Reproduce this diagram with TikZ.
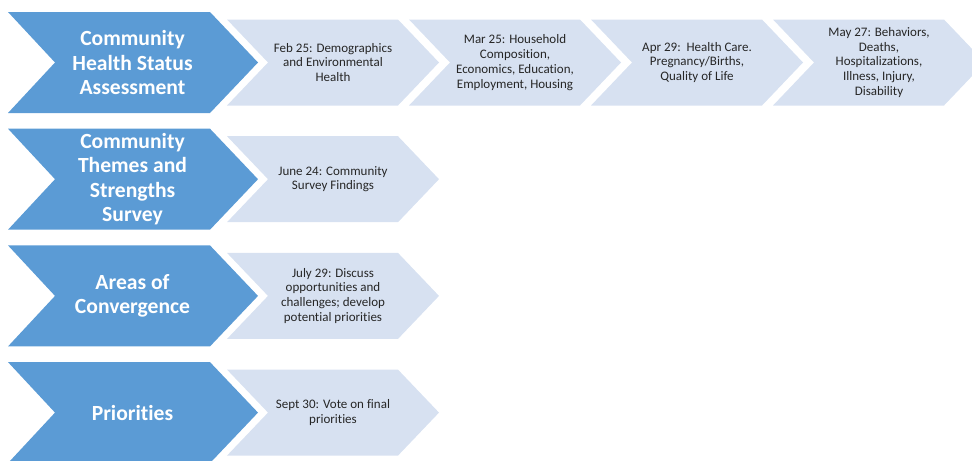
\documentclass[tikz,border=0pt]{standalone}
\usepackage{fontspec}
\setmainfont{Carlito}[Ligatures=NoCommon]

\definecolor{stepblue}{HTML}{5B9BD5}
\definecolor{topicblue}{HTML}{D7E1F1}

\begin{document}
\begin{tikzpicture}[x=0.02cm,y=-0.02cm]

      \useasboundingbox (0,0) rectangle (972,460);

      % big chevrons, one per row
      \foreach \r in {0,...,3}
        \fill[stepblue] (8,12+116.7*\r) -- ++(202,0) -- ++(48,50.5) -- ++(-48,50.5)
          -- ++(-202,0) -- ++(47,-50.5) -- cycle;

      % small chevrons: four in the first row, one in the others
      \foreach \x in {227,409,591,773}
        \fill[topicblue] (\x,19.5) -- ++(171,0) -- ++(41,43) -- ++(-41,43)
          -- ++(-171,0) -- ++(41,-43) -- cycle;
      \foreach \r in {1,2,3}
        \fill[topicblue] (227,19.5+116.7*\r) -- ++(171,0) -- ++(41,43) -- ++(-41,43)
          -- ++(-171,0) -- ++(41,-43) -- cycle;

      \begin{scope}[every node/.style={align=center,text=white,
          font=\fontsize{12.3}{14}\selectfont\bfseries}]
        \node (chs) at (132.5,62.5)  {Community\\Health Status\\Assessment};
        \node (cts) at (132.5,179.2) {Community\\Themes and\\Strengths\\Survey};
        \node (aoc) at (132.5,295.9) {Areas of\\Convergence};
        \node (pri) at (132.5,412.6) {Priorities};
      \end{scope}

      \begin{scope}[every node/.style={align=center,text=black!85,
          font=\fontsize{7.4}{8.4}\selectfont}]
        \node (feb) at (333,62.5)  {Feb 25: Demographics\\and Environmental\\Health};
        \node (mar) at (515,62.5)  {Mar 25: Household\\Composition,\\Economics, Education,\\Employment, Housing};
        \node (apr) at (697,62.5)  {Apr 29:\ \ Health Care.\\Pregnancy/Births,\\Quality of Life};
        \node (may) at (879,62.5)  {May 27: Behaviors,\\Deaths,\\Hospitalizations,\\Illness, Injury,\\Disability};
        \node (jun) at (333,179.2) {June 24: Community\\Survey Findings};
        \node (jul) at (333,295.9) {July 29: Discuss\\opportunities and\\challenges; develop\\potential priorities};
        \node (sep) at (333,412.6) {Sept 30: Vote on final\\priorities};
      \end{scope}

    \end{tikzpicture}
\end{document}
